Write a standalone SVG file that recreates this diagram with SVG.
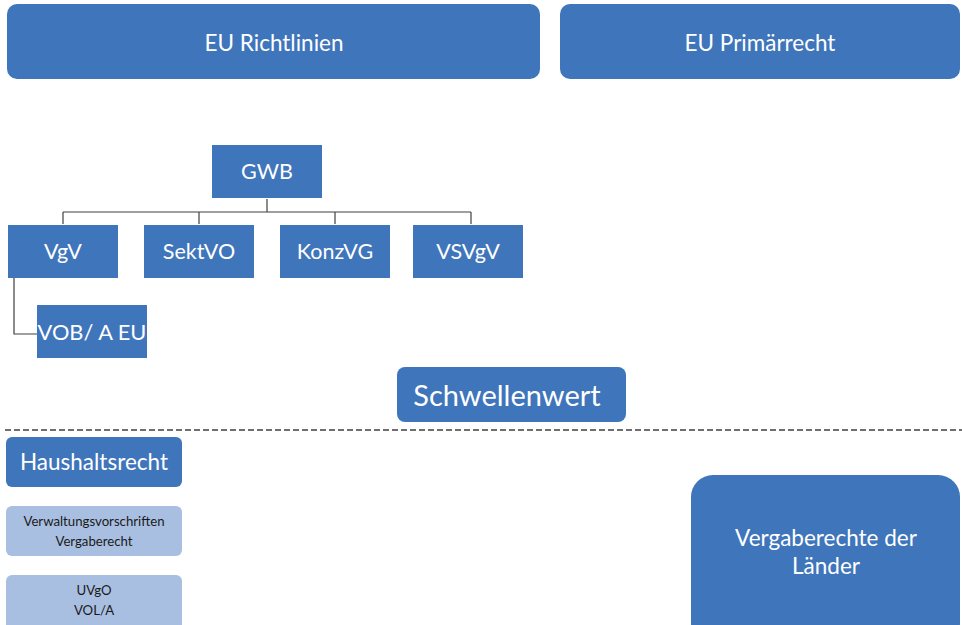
<svg xmlns="http://www.w3.org/2000/svg" width="962" height="625" viewBox="0 0 962 625">
<style>
.b{fill:#3f75bb}
.l{fill:#a9bfe1}
.t{font-family:Lato,"Open Sans",sans-serif;fill:#ffffff;text-anchor:middle;dominant-baseline:central}
.d{font-family:Lato,"Open Sans",sans-serif;fill:#1a1a1a;text-anchor:middle;dominant-baseline:central;font-size:13.2px}
.c{fill:none;stroke:#404040;stroke-width:1.2}
</style>
<rect width="962" height="625" fill="#ffffff"/>
<g id="eu-richtlinien"><rect class="b" x="7" y="4" width="533" height="75" rx="10"/><text class="t" x="274" y="42" font-size="22.5">EU Richtlinien</text></g>
<g id="eu-primaerrecht"><rect class="b" x="560" y="4" width="400" height="75" rx="10"/><text class="t" x="760" y="42" font-size="22.5">EU Primärrecht</text></g>
<g id="connectors">
<path class="c" d="M267 199V212M63 212H471M63 212V224M199 212V224M335 212V224M471 212V224"/>
<path class="c" d="M14 278V334H37"/>
<line x1="5" y1="430" x2="962" y2="430" stroke="#404040" stroke-width="1.5" stroke-dasharray="6,3"/>
</g>
<g id="gwb"><rect class="b" x="212" y="145" width="110" height="53"/><text class="t" x="267" y="171" font-size="21.5">GWB</text></g>
<g id="vgv"><rect class="b" x="8" y="225" width="110" height="53"/><text class="t" x="63" y="251" font-size="21.5">VgV</text></g>
<g id="sektvo"><rect class="b" x="144" y="225" width="110" height="53"/><text class="t" x="199" y="251" font-size="21.5">SektVO</text></g>
<g id="konzvg"><rect class="b" x="280" y="225" width="110" height="53"/><text class="t" x="335" y="251" font-size="21.5">KonzVG</text></g>
<g id="vsvgv"><rect class="b" x="413" y="225" width="110" height="53"/><text class="t" x="468" y="251" font-size="21.5">VSVgV</text></g>
<g id="vob-a-eu"><rect class="b" x="37" y="305" width="110" height="53"/><text class="t" x="92" y="331" font-size="21.8">VOB/ A EU</text></g>
<g id="schwellenwert"><rect class="b" x="397" y="367" width="229" height="55" rx="8"/><text class="t" x="507" y="394" font-size="29">Schwellenwert</text></g>
<g id="haushaltsrecht"><rect class="b" x="6" y="437" width="176" height="50" rx="6"/><text class="t" x="94" y="461" font-size="22.5">Haushaltsrecht</text></g>
<g id="verwaltungsvorschriften"><rect class="l" x="6" y="506" width="176" height="50" rx="6"/><text class="d" x="94" y="521">Verwaltungsvorschriften</text><text class="d" x="94" y="541">Vergaberecht</text></g>
<g id="uvgo"><rect class="l" x="6" y="575" width="176" height="60" rx="6"/><text class="d" x="94" y="590">UVgO</text><text class="d" x="94" y="610">VOL/A</text></g>
<g id="vergaberechte-laender"><rect class="b" x="691" y="475" width="269" height="170" rx="22"/><text class="t" x="826" y="537" font-size="22.5">Vergaberechte der</text><text class="t" x="826" y="565" font-size="22.5">Länder</text></g>
</svg>
